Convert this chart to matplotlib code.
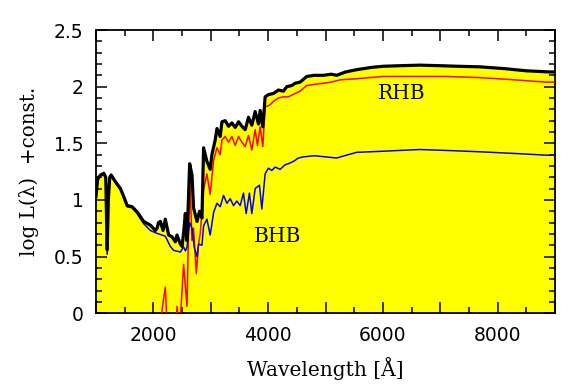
import matplotlib
matplotlib.use('Agg')
import matplotlib.pyplot as plt
from matplotlib.ticker import MultipleLocator, FuncFormatter

# total spectrum (black)
wl_tot = [1000, 1030, 1080, 1135, 1170, 1195, 1215, 1240, 1264, 1340, 1426, 1483,
          1543, 1630, 1716, 1831, 1948, 2035, 2064, 2090, 2122, 2168, 2208, 2266,
          2325, 2383, 2412, 2470, 2500, 2527, 2557, 2586, 2632, 2673, 2700, 2760,
          2805, 2847, 2875, 2933, 2990, 3020, 3078, 3108, 3165, 3195, 3252, 3310,
          3368, 3426, 3484, 3542, 3600, 3658, 3716, 3774, 3832, 3861, 3907, 3948,
          4005, 4093, 4180, 4266, 4325, 4412, 4470, 4557, 4673, 4800, 4962, 5100,
          5195, 5350, 5543, 5800, 6005, 6300, 6643, 7000, 7300, 7687, 8100, 8500,
          8900, 9000]
tot = [1.03, 1.19, 1.22, 1.235, 1.20, 0.56, 1.00, 1.20, 1.22, 1.16, 1.10, 1.03,
       0.95, 0.94, 0.895, 0.81, 0.777, 0.73, 0.75, 0.80, 0.81, 0.73, 0.83, 0.69,
       0.675, 0.63, 0.69, 0.61, 0.59, 0.71, 0.88, 0.64, 1.32, 1.22, 0.93, 0.81,
       0.90, 0.84, 1.46, 1.34, 1.27, 1.40, 1.53, 1.63, 1.56, 1.69, 1.70, 1.65,
       1.68, 1.64, 1.69, 1.65, 1.62, 1.73, 1.66, 1.78, 1.67, 1.79, 1.645, 1.91,
       1.93, 1.94, 1.97, 1.96, 2.00, 2.01, 2.03, 2.04, 2.09, 2.10, 2.10, 2.11,
       2.10, 2.13, 2.15, 2.17, 2.18, 2.185, 2.19, 2.185, 2.18, 2.175, 2.16, 2.14,
       2.13, 2.13]

# red horizontal branch
wl_rhb = [1000, 2100, 2151, 2208, 2238, 2300, 2380, 2412, 2440, 2470, 2527, 2586,
          2632, 2673, 2700, 2748, 2788, 2818, 2875, 2933, 2990, 3050, 3108, 3165,
          3195, 3252, 3310, 3368, 3426, 3484, 3542, 3600, 3658, 3716, 3774, 3814,
          3861, 3907, 3948, 4035, 4093, 4180, 4266, 4354, 4470, 4557, 4673, 4800,
          4962, 5100, 5253, 5543, 6005, 6643, 7107, 7687, 8300, 8850, 9000]
rhb = [-0.6, -0.6, 0.03, 0.23, -0.1, -0.4, -0.3, 0.06, -0.1, -0.05, 0.43, 0.06,
       1.22, 0.64, 0.75, 0.35, 0.61, 0.71, 1.09, 1.23, 1.05, 1.35, 1.46, 1.40,
       1.53, 1.56, 1.51, 1.56, 1.48, 1.56, 1.51, 1.47, 1.57, 1.44, 1.62, 1.48,
       1.645, 1.47, 1.82, 1.84, 1.87, 1.90, 1.91, 1.91, 1.94, 1.96, 2.01, 2.02,
       2.03, 2.04, 2.06, 2.07, 2.09, 2.09, 2.09, 2.08, 2.06, 2.04, 2.04]

# blue horizontal branch
wl_bhb = [1000, 1030, 1080, 1135, 1170, 1195, 1215, 1240, 1264, 1340, 1426, 1483,
          1543, 1630, 1716, 1831, 1948, 2035, 2090, 2150, 2208, 2295, 2353, 2470,
          2527, 2557, 2586, 2632, 2673, 2713, 2760, 2788, 2847, 2875, 2933, 2990,
          3050, 3108, 3165, 3223, 3281, 3339, 3397, 3455, 3513, 3570, 3617, 3674,
          3716, 3774, 3849, 3890, 3948, 4005, 4064, 4122, 4209, 4296, 4354, 4441,
          4528, 4614, 4800, 5000, 5195, 5400, 5543, 6005, 6643, 7200, 7687, 8300,
          8850, 9000]
bhb = [1.02, 1.17, 1.21, 1.225, 1.19, 0.52, 0.98, 1.19, 1.21, 1.15, 1.09, 1.02,
       0.94, 0.93, 0.88, 0.79, 0.73, 0.71, 0.70, 0.69, 0.68, 0.59, 0.555, 0.54,
       0.585, 0.55, 0.58, 0.80, 0.75, 0.58, 0.50, 0.61, 0.60, 0.77, 0.83, 0.69,
       0.89, 0.97, 0.94, 1.04, 0.97, 1.01, 0.95, 0.99, 0.95, 1.06, 0.88, 1.06,
       0.88, 1.10, 1.13, 0.92, 1.23, 1.28, 1.26, 1.29, 1.27, 1.31, 1.32, 1.34,
       1.37, 1.38, 1.39, 1.38, 1.37, 1.40, 1.42, 1.43, 1.445, 1.435, 1.425, 1.41,
       1.395, 1.395]

fig = plt.figure(figsize=(5.8, 3.9), dpi=100)
ax = fig.add_axes([0.1655, 0.197, 0.7915, 0.726])

ax.fill_between(wl_tot, 0, tot, color='#ffff00', lw=0, zorder=1)
ax.plot(wl_rhb, rhb, color='red', lw=1.1, zorder=3)
ax.plot(wl_bhb, bhb, color='blue', lw=1.1, zorder=3)
ax.plot(wl_tot, tot, color='black', lw=2.3, zorder=4)

ax.text(6330, 1.94, 'RHB', family='DejaVu Serif', fontsize=14.5, ha='center', va='center')
ax.text(4157, 0.68, 'BHB', family='DejaVu Serif', fontsize=14.5, ha='center', va='center')

ax.set_xlim(1000, 9000)
ax.set_ylim(0, 2.5)
ax.xaxis.set_major_locator(MultipleLocator(1000))
ax.xaxis.set_minor_locator(MultipleLocator(500))
ax.xaxis.set_major_formatter(FuncFormatter(lambda v, p: '%d' % v if int(v) % 2000 == 0 else ''))
ax.yaxis.set_major_locator(MultipleLocator(0.5))
ax.yaxis.set_minor_locator(MultipleLocator(0.1))
ax.yaxis.set_major_formatter(FuncFormatter(lambda v, p: '%g' % v))
ax.tick_params(which='both', direction='in', top=True, right=True, labelsize=13.5, width=1.1)
ax.tick_params(which='major', length=8, pad=9)
ax.tick_params(which='minor', length=4)
for s in ax.spines.values():
    s.set_linewidth(1.3)

ax.set_xlabel('Wavelength [Å]', family='DejaVu Serif', fontsize=14.5, labelpad=9)
ax.set_ylabel('log L(λ)  +const.', family='DejaVu Serif', fontsize=14.3, labelpad=11)

fig.savefig('out.png', dpi=100)
